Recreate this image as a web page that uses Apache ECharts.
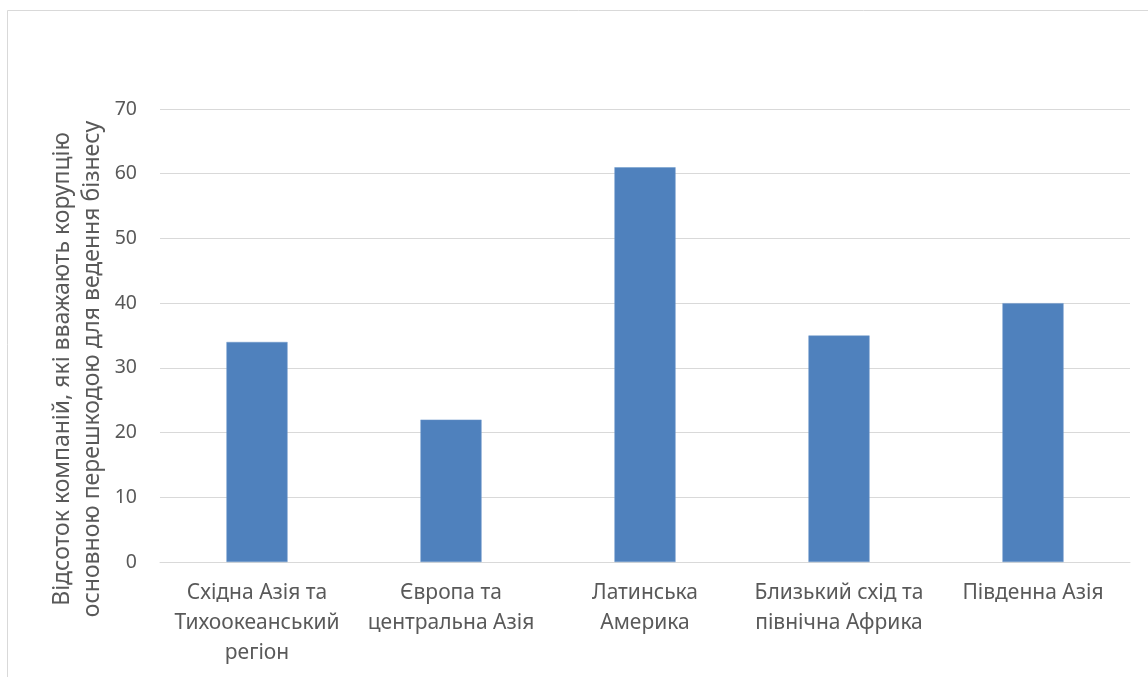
<!DOCTYPE html>
<html>
<head>
<meta charset="utf-8">
<script src="https://cdn.jsdelivr.net/npm/echarts@6/dist/echarts.min.js"></script>
<style>html,body{margin:0;padding:0;background:#fff;}#c{width:1148px;height:677px;}</style>
</head>
<body>
<div id="c"></div>
<script>
const categories = ["Східна Азія та\nТихоокеанський\nрегіон", "Європа та\nцентральна Азія", "Латинська\nАмерика", "Близький схід та\nпівнічна Африка", "Південна Азія"];
const values = [34, 22, 61, 35, 40];
const yTitle = "Відсоток компаній, які вважають корупцію\nосновною перешкодою для ведення бізнесу";
const yMin = 0, yMax = 70, yStep = 10;

const font = '"Noto Sans", "Open Sans", sans-serif';
const chart = echarts.init(document.getElementById('c'));
chart.setOption({
  animation: false,
  backgroundColor: '#fff',
  grid: { left: 160, right: 18, top: 109, bottom: 115, containLabel: false },
  graphic: [
    { type: 'rect', shape: { x: 7.5, y: 10.5, width: 1300, height: 800 }, style: { fill: 'none', stroke: '#D9D9D9', lineWidth: 1 }, silent: true },
    { type: 'text', x: 77, y: 369, rotation: Math.PI / 2, style: { text: yTitle, font: '23px ' + font, fill: '#595959', align: 'center', verticalAlign: 'middle', lineHeight: 30 } }
  ],
  xAxis: {
    type: 'category',
    data: categories,
    axisLine: { lineStyle: { color: '#D9D9D9', width: 1 } },
    axisTick: { show: false },
    axisLabel: { color: '#595959', fontFamily: font, fontSize: 21, lineHeight: 30, margin: 16, interval: 0 }
  },
  yAxis: {
    type: 'value', min: yMin, max: yMax, interval: yStep,
    axisLine: { show: false }, axisTick: { show: false },
    splitLine: { lineStyle: { color: '#D9D9D9', width: 1 } },
    axisLabel: { color: '#595959', fontFamily: font, fontSize: 19.5, margin: 23 }
  },
  series: [{
    type: 'bar', data: values, barWidth: '31.5%',
    itemStyle: { color: '#4F81BD', borderColor: '#6E98CB', borderWidth: 0.5 }
  }]
});
</script>
</body>
</html>
